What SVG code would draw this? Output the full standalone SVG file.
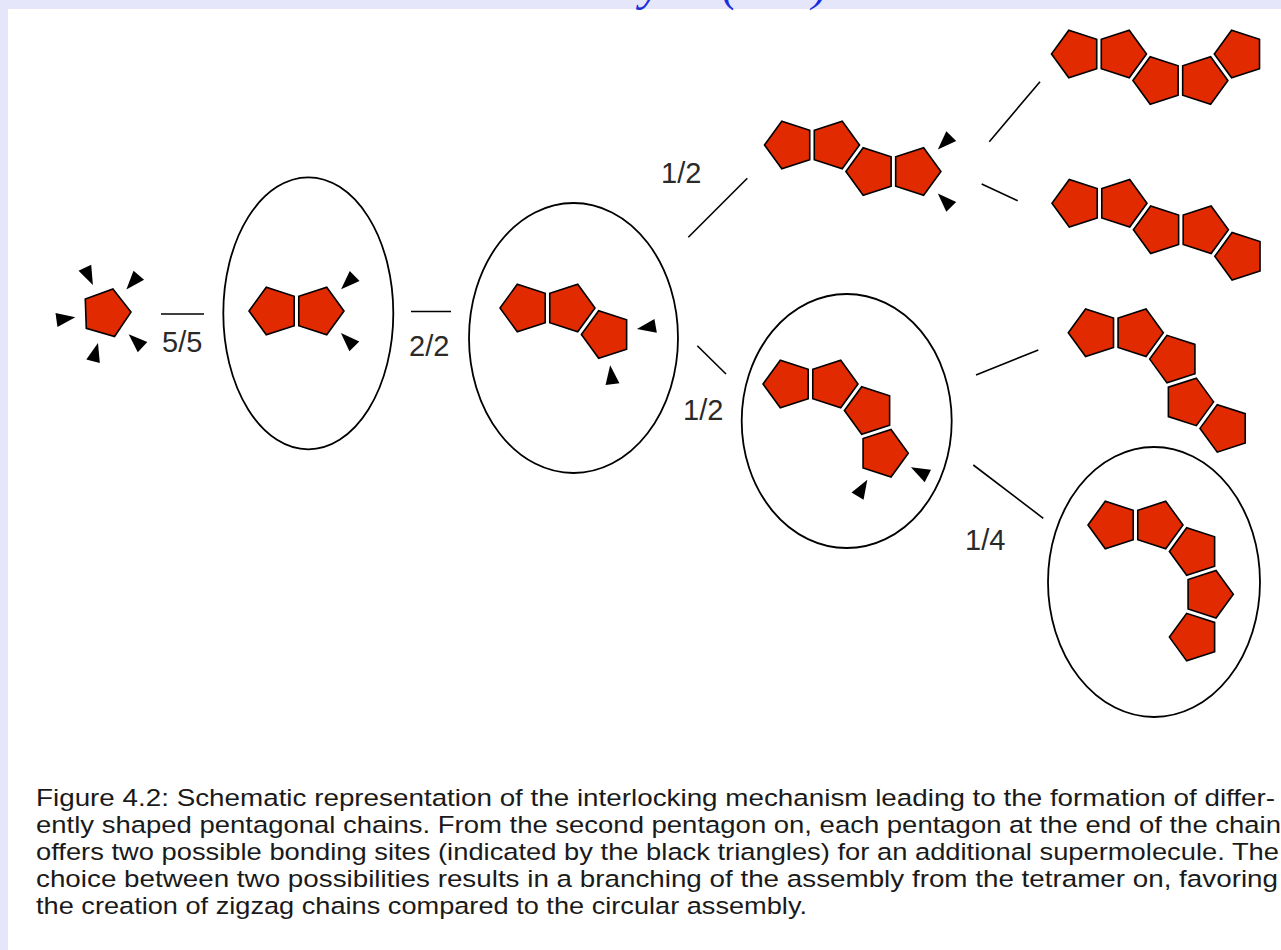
<svg xmlns="http://www.w3.org/2000/svg" xmlns:xlink="http://www.w3.org/1999/xlink" width="1281" height="950" viewBox="0 0 1281 950">
  <style>
    .pg { fill: #e22a00; stroke: #000; stroke-width: 1.6; stroke-linejoin: miter; }
    .site { fill: #000; }
    .shell { fill: none; stroke: #000; stroke-width: 1.8; }
    .link { stroke: #000; stroke-width: 1.6; fill: none; }
    .ratio { font-family: "Liberation Sans", Arial, sans-serif; font-size: 29px; fill: #2a2a2a; }
    .caption { font-family: "Liberation Sans", Arial, Helvetica, sans-serif; font-size: 24.5px; fill: #1a1a1a; }
    .title { font-family: "Liberation Serif", "Times New Roman", serif; font-style: italic; font-size: 48px; fill: #1a2ee0; }
  </style>
  <defs>
    <!-- regular pentagon, circumradius 25, one vertex on +x -->
    <polygon id="pent" points="25,0 7.725,23.776 -20.225,14.695 -20.225,-14.695 7.725,-23.776"/>
    <!-- bonding-site marker: apex points back toward the origin -->
    <polygon id="tri" points="31,0 50,-7 50,7"/>
  </defs>

  <!-- page background -->
  <rect x="0" y="0" width="1281" height="950" fill="#e6e6fa"/>
  <rect x="8" y="9" width="1273" height="941" fill="#ffffff"/>

  <!-- slide title, mostly above the page edge -->
  <g id="title">
    <text class="title" x="640" y="0">y</text>
    <text class="title" x="722" y="0">(</text>
    <text class="title" x="812" y="0">)</text>
  </g>

  <!-- connectors between assembly stages -->
  <g id="connectors">
    <line class="link" x1="161" y1="314" x2="204" y2="314"/>
    <line class="link" x1="411" y1="311.5" x2="451" y2="311.5"/>
    <line class="link" x1="688.3" y1="237.3" x2="747.3" y2="178.3"/>
    <line class="link" x1="697.3" y1="345.7" x2="726" y2="374"/>
    <line class="link" x1="989.3" y1="141.7" x2="1040" y2="81.7"/>
    <line class="link" x1="981.7" y1="184" x2="1017.7" y2="200.7"/>
    <line class="link" x1="976" y1="375" x2="1038.3" y2="350"/>
    <line class="link" x1="973.3" y1="465" x2="1043.3" y2="518.3"/>
    <text class="ratio" x="162" y="352">5/5</text>
    <text class="ratio" x="409" y="356">2/2</text>
    <text class="ratio" x="661" y="183">1/2</text>
    <text class="ratio" x="683" y="420">1/2</text>
    <text class="ratio" x="965" y="550">1/4</text>
  </g>

  <!-- monomer with five bonding sites -->
  <g id="monomer">
    <use xlink:href="#pent" class="pg" transform="translate(106,313) rotate(-2)"/>
    <use xlink:href="#tri" class="site" transform="translate(106,313) rotate(245)"/>
    <use xlink:href="#tri" class="site" transform="translate(106,313) rotate(311)"/>
    <use xlink:href="#tri" class="site" transform="translate(106,313) rotate(172)"/>
    <use xlink:href="#tri" class="site" transform="translate(106,313) rotate(105)"/>
    <use xlink:href="#tri" class="site" transform="translate(106,313) rotate(43)"/>
  </g>

  <!-- dimer -->
  <g id="dimer">
    <ellipse class="shell" cx="308.3" cy="313.3" rx="85" ry="136"/>
    <use xlink:href="#pent" class="pg" transform="translate(274,311) rotate(36)"/>
    <use xlink:href="#pent" class="pg" transform="translate(319,311)"/>
    <use xlink:href="#tri" class="site" transform="translate(319,311) rotate(-44.5)"/>
    <use xlink:href="#tri" class="site" transform="translate(319,311) rotate(45)"/>
  </g>

  <!-- trimer -->
  <g id="trimer">
    <ellipse class="shell" cx="573.5" cy="338" rx="104.5" ry="135"/>
    <use xlink:href="#pent" class="pg" transform="translate(525,308) rotate(36)"/>
    <use xlink:href="#pent" class="pg" transform="translate(570,308)"/>
    <use xlink:href="#pent" class="pg" transform="translate(606.4,334.5) rotate(36)"/>
    <use xlink:href="#tri" class="site" transform="translate(606.4,334.5) rotate(-10)"/>
    <use xlink:href="#tri" class="site" transform="translate(606.4,334.5) rotate(83)"/>
  </g>

  <!-- tetramer, zigzag branch -->
  <g id="tetramer-zigzag">
    <use xlink:href="#pent" class="pg" transform="translate(789.5,145) rotate(36)"/>
    <use xlink:href="#pent" class="pg" transform="translate(834.5,145)"/>
    <use xlink:href="#pent" class="pg" transform="translate(870.9,171.5) rotate(36)"/>
    <use xlink:href="#pent" class="pg" transform="translate(915.9,171.5)"/>
    <use xlink:href="#tri" class="site" transform="translate(915.9,171.5) rotate(-45)"/>
    <use xlink:href="#tri" class="site" transform="translate(915.9,171.5) rotate(45)"/>
  </g>

  <!-- tetramer, curved branch -->
  <g id="tetramer-curved">
    <ellipse class="shell" cx="846.7" cy="421" rx="105" ry="127"/>
    <use xlink:href="#pent" class="pg" transform="translate(788,384) rotate(36)"/>
    <use xlink:href="#pent" class="pg" transform="translate(833,384)"/>
    <use xlink:href="#pent" class="pg" transform="translate(869.4,410.5) rotate(36)"/>
    <use xlink:href="#pent" class="pg" transform="translate(883.3,453.3)"/>
    <use xlink:href="#tri" class="site" transform="translate(883.3,453.3) rotate(27)"/>
    <use xlink:href="#tri" class="site" transform="translate(883.3,453.3) rotate(121)"/>
  </g>

  <!-- pentamer: zigzag turning up -->
  <g id="pentamer-a">
    <use xlink:href="#pent" class="pg" transform="translate(1076.5,54) rotate(36)"/>
    <use xlink:href="#pent" class="pg" transform="translate(1121.5,54)"/>
    <use xlink:href="#pent" class="pg" transform="translate(1157.9,80.5) rotate(36)"/>
    <use xlink:href="#pent" class="pg" transform="translate(1202.9,80.5)"/>
    <use xlink:href="#pent" class="pg" transform="translate(1239.3,54) rotate(36)"/>
  </g>

  <!-- pentamer: zigzag continuing down -->
  <g id="pentamer-b">
    <use xlink:href="#pent" class="pg" transform="translate(1077,203.3) rotate(36)"/>
    <use xlink:href="#pent" class="pg" transform="translate(1122,203.3)"/>
    <use xlink:href="#pent" class="pg" transform="translate(1158.4,229.8) rotate(36)"/>
    <use xlink:href="#pent" class="pg" transform="translate(1203.4,229.8)"/>
    <use xlink:href="#pent" class="pg" transform="translate(1239.8,256.3) rotate(36)"/>
  </g>

  <!-- pentamer: curve opening out -->
  <g id="pentamer-c">
    <use xlink:href="#pent" class="pg" transform="translate(1093.3,332.7) rotate(36)"/>
    <use xlink:href="#pent" class="pg" transform="translate(1138.3,332.7)"/>
    <use xlink:href="#pent" class="pg" transform="translate(1174.7,359.1) rotate(36)"/>
    <use xlink:href="#pent" class="pg" transform="translate(1188.6,401.9)"/>
    <use xlink:href="#pent" class="pg" transform="translate(1225,428.4) rotate(36)"/>
  </g>

  <!-- pentamer: curve closing in -->
  <g id="pentamer-d">
    <ellipse class="shell" cx="1154" cy="582" rx="106" ry="135"/>
    <use xlink:href="#pent" class="pg" transform="translate(1113,525) rotate(36)"/>
    <use xlink:href="#pent" class="pg" transform="translate(1158,525)"/>
    <use xlink:href="#pent" class="pg" transform="translate(1194.4,551.5) rotate(36)"/>
    <use xlink:href="#pent" class="pg" transform="translate(1208.3,594.3)"/>
    <use xlink:href="#pent" class="pg" transform="translate(1194.4,637.1) rotate(36)"/>
  </g>

  <!-- figure caption -->
  <g id="caption">
    <text class="caption" x="36" y="806" textLength="1239" lengthAdjust="spacingAndGlyphs">Figure 4.2: Schematic representation of the interlocking mechanism leading to the formation of differ-</text>
    <text class="caption" x="36" y="833" textLength="1245" lengthAdjust="spacingAndGlyphs">ently shaped pentagonal chains. From the second pentagon on, each pentagon at the end of the chain</text>
    <text class="caption" x="36" y="860" textLength="1243" lengthAdjust="spacingAndGlyphs">offers two possible bonding sites (indicated by the black triangles) for an additional supermolecule. The</text>
    <text class="caption" x="36" y="887" textLength="1242" lengthAdjust="spacingAndGlyphs">choice between two possibilities results in a branching of the assembly from the tetramer on, favoring</text>
    <text class="caption" x="36" y="914" textLength="771" lengthAdjust="spacingAndGlyphs">the creation of zigzag chains compared to the circular assembly.</text>
  </g>
</svg>
